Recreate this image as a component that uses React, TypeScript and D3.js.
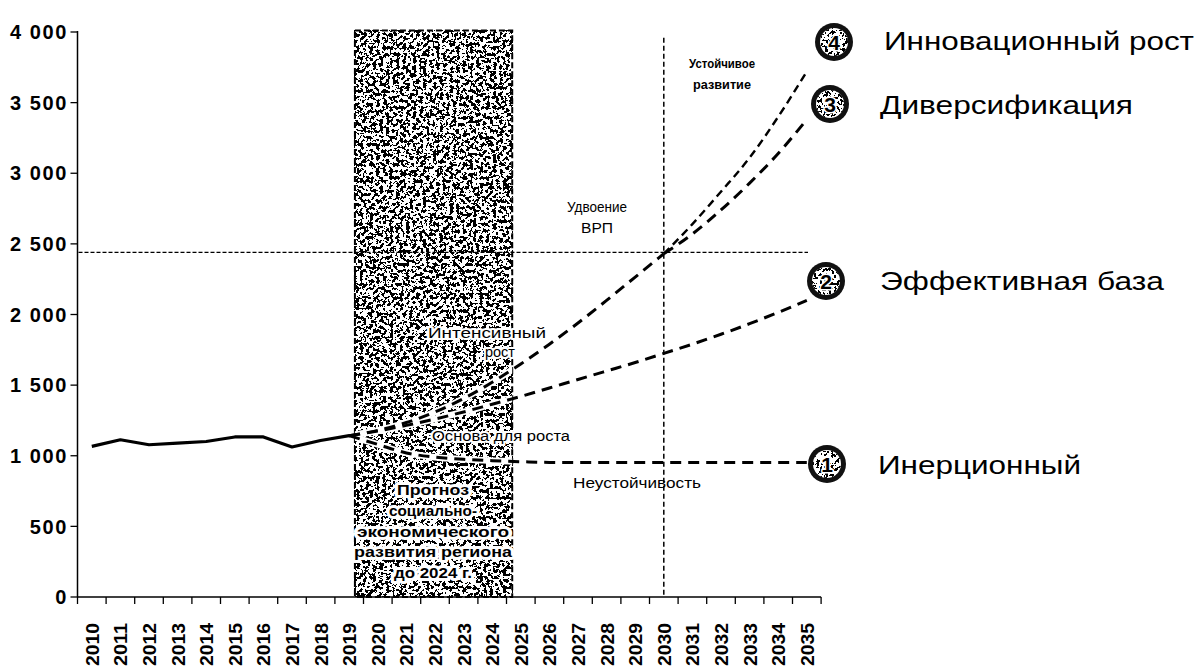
import React from 'react';
import * as d3 from 'd3';

// ---- data ----
const axisYears = d3.range(2010, 2036);
const yTickValues = [0, 500, 1000, 1500, 2000, 2500, 3000, 3500, 4000];

const histYears = [2010, 2011, 2012, 2013, 2014, 2015, 2016, 2017, 2018, 2019];
const histValues = [1066, 1113, 1078, 1090, 1101, 1133, 1133, 1062, 1108, 1142];

const scenarioYears = [2019, 2020, 2021, 2022, 2023, 2024, 2025, 2026, 2027, 2028, 2029, 2030, 2031, 2032, 2033, 2034, 2035];
const inertialValues = [1142, 1080, 1020, 990, 975, 965, 958, 953, 952, 952, 952, 952, 952, 952, 952, 952, 952];
const baseValues = [1142, 1175, 1215, 1260, 1310, 1365, 1420, 1480, 1540, 1600, 1660, 1725, 1790, 1860, 1935, 2015, 2100];

const growthYears = [2019, 2020, 2021, 2022, 2023, 2024, 2025, 2026, 2027, 2028, 2029, 2030];
const growthValues = [1142, 1180, 1235, 1310, 1405, 1520, 1650, 1790, 1940, 2100, 2265, 2430];
const postYears = [2030, 2031, 2032, 2033, 2034, 2035];
const innovationPost = [2430, 2640, 2870, 3110, 3400, 3720];
const diversificationPost = [2430, 2570, 2740, 2930, 3140, 3380];

const doublingLevel = 2440;
const doublingYear = 2030;
const forecastStart = 2019.2;
const forecastEnd = 2024.7;
const forecastTop = 4010;

const scenarioNames = ['Инерционный', 'Эффективная база', 'Диверсификация', 'Инновационный рост'];
const forecastLines = ['Прогноз', 'социально-', 'экономического', 'развития региона', 'до 2024 г.'];

const FONT = '"Liberation Sans", Arial, sans-serif';

const fmt = d3.formatLocale({ decimal: ',', thousands: ' ', grouping: [3], currency: ['', ''] }).format(',');

export default function App() {
  const W = 1201, H = 671;
  const bandW = 28.6;
  const x0 = 77.5;
  const x = d3.scaleLinear().domain([2009.5, 2035.5]).range([x0, x0 + 26 * bandW]);
  const y = d3.scaleLinear().domain([0, 4000]).range([597, 32]);

  const line = d3.line<[number, number]>().x(d => x(d[0])).y(d => y(d[1])).curve(d3.curveMonotoneX);
  const zip = (a: number[], b: number[]) => a.map((v, i) => [v, b[i]] as [number, number]);

  const histPath = d3.line<[number, number]>().x(d => x(d[0])).y(d => y(d[1]))(zip(histYears, histValues)) || '';
  const inertialPath = line(zip(scenarioYears, inertialValues)) || '';
  const basePath = line(zip(scenarioYears, baseValues)) || '';
  const growthPath = line(zip(growthYears, growthValues)) || '';
  const innovPath = line(zip(postYears, innovationPost)) || '';
  const diversPath = line(zip(postYears, diversificationPost)) || '';

  const badges = [
    { n: 4, cx: 834, cy: 42, tx: 884, ty: 50, len: 310, name: scenarioNames[3] },
    { n: 3, cx: 830, cy: 104, tx: 880, ty: 114, len: 253, name: scenarioNames[2] },
    { n: 2, cx: 826, cy: 281, tx: 880, ty: 290, len: 284, name: scenarioNames[1] },
    { n: 1, cx: 827, cy: 464, tx: 878, ty: 474, len: 203, name: scenarioNames[0] },
  ];

  const fx1 = x(forecastStart), fx2 = x(forecastEnd);
  const fyTop = y(forecastTop), fyBot = y(0);
  const xEnd = x0 + 26 * bandW;
  const dash = '11 7';

  return (
    <svg width={W} height={H} style={{ position: 'absolute', left: 0, top: 0, background: '#fff' }} fontFamily={FONT}>
      <defs>
        <filter id="grain" x="0" y="0" width="1" height="1">
          <feTurbulence type="fractalNoise" baseFrequency="0.3" numOctaves={3} seed={11} result="n" />
          <feColorMatrix in="n" type="matrix" values="0 0 0 0 0  0 0 0 0 0  0 0 0 0 0  1 0 0 0 -0.02" result="a" />
          <feComponentTransfer in="a">
            <feFuncA type="discrete" tableValues="0 1" />
          </feComponentTransfer>
        </filter>
        <filter id="grainLight" x="0" y="0" width="1" height="1">
          <feTurbulence type="fractalNoise" baseFrequency="0.35" numOctaves={2} seed={5} result="n" />
          <feColorMatrix in="n" type="matrix" values="0 0 0 0 0  0 0 0 0 0  0 0 0 0 0  1 0 0 0 -0.05" result="a" />
          <feComponentTransfer in="a">
            <feFuncA type="discrete" tableValues="0 1" />
          </feComponentTransfer>
        </filter>
        <clipPath id="boxclip">
          <rect x={fx1} y={fyTop} width={fx2 - fx1} height={fyBot - fyTop} />
        </clipPath>
        {badges.map(b => (
          <clipPath id={`bclip${b.n}`} key={b.n}>
            <circle cx={b.cx} cy={b.cy} r={14} />
          </clipPath>
        ))}
      </defs>

      {/* forecast shaded block */}
      <rect x={fx1} y={fyTop} width={fx2 - fx1} height={fyBot - fyTop} fill="#fff" />
      <rect x={fx1} y={fyTop} width={fx2 - fx1} height={fyBot - fyTop} fill="#000" filter="url(#grain)" />
      <rect x={fx1} y={fyTop} width={fx2 - fx1} height={fyBot - fyTop} fill="none" stroke="#000" strokeWidth={2} strokeDasharray="6 3" />

      {/* reference lines */}
      <line x1={x0 + 1} x2={808} y1={y(doublingLevel)} y2={y(doublingLevel)} stroke="#000" strokeWidth={1.4} strokeDasharray="4 2" />
      <line x1={x(doublingYear)} x2={x(doublingYear)} y1={y(3960)} y2={y(0)} stroke="#000" strokeWidth={1.5} strokeDasharray="5 3" />

      {/* axes */}
      <line x1={x0} x2={x0} y1={y(4000) - 1} y2={y(0)} stroke="#000" strokeWidth={1.5} />
      {yTickValues.map(v => (
        <g key={v}>
          <line x1={x0 - 7} x2={x0} y1={y(v)} y2={y(v)} stroke="#000" strokeWidth={1.3} />
          <text x={68} y={y(v)} dy="0.36em" textAnchor="end" fontSize={20} fontWeight="bold" letterSpacing={1.6}>{fmt(v)}</text>
        </g>
      ))}
      <line x1={x0} x2={xEnd} y1={y(0)} y2={y(0)} stroke="#000" strokeWidth={1.5} />
      {d3.range(0, 27).map(i => (
        <line key={i} x1={x0 + i * bandW} x2={x0 + i * bandW} y1={y(0)} y2={y(0) + 7} stroke="#000" strokeWidth={1.3} />
      ))}
      {axisYears.map(yr => (
        <text key={yr} transform={`translate(${x(yr) + 7},${623}) rotate(-90)`} textAnchor="end" fontSize={19} fontWeight="bold" textLength={43} lengthAdjust="spacingAndGlyphs">{yr}</text>
      ))}

      {/* annotations under the lines */}
      <g fontSize={14} textAnchor="middle" stroke="#fff" strokeWidth={4} paintOrder="stroke" strokeLinejoin="round">
        <text x={487} y={338} textLength={118} lengthAdjust="spacingAndGlyphs">Интенсивный</text>
        <text x={500} y={357} textLength={30} lengthAdjust="spacingAndGlyphs">рост</text>
        <text x={501} y={441} textLength={138} lengthAdjust="spacingAndGlyphs">Основа для роста</text>
      </g>

      {/* white halo under dashed lines inside the forecast block */}
      <g clipPath="url(#boxclip)" fill="none" stroke="#fff" strokeWidth={6.5} strokeLinecap="round">
        <path d={inertialPath} />
        <path d={basePath} />
        <path d={growthPath} />
      </g>

      {/* series */}
      <path d={histPath} fill="none" stroke="#000" strokeWidth={3.2} strokeLinejoin="round" />
      <path d={inertialPath} fill="none" stroke="#000" strokeWidth={3} strokeDasharray={dash} />
      <path d={basePath} fill="none" stroke="#000" strokeWidth={3} strokeDasharray={dash} />
      <path d={growthPath} fill="none" stroke="#000" strokeWidth={3} strokeDasharray={dash} />
      <path d={diversPath} fill="none" stroke="#000" strokeWidth={3} strokeDasharray={dash} />
      <path d={innovPath} fill="none" stroke="#000" strokeWidth={2.4} strokeDasharray="8 5" />

      {/* annotations */}
      <g fontSize={13} fontWeight="bold" textAnchor="middle">
        <text x={722} y={68} textLength={66} lengthAdjust="spacingAndGlyphs">Устойчивое</text>
        <text x={722} y={89} textLength={58} lengthAdjust="spacingAndGlyphs">развитие</text>
      </g>
      <g fontSize={14} textAnchor="middle">
        <text x={597} y={212} textLength={60} lengthAdjust="spacingAndGlyphs">Удвоение</text>
        <text x={597} y={233} textLength={32} lengthAdjust="spacingAndGlyphs">ВРП</text>
        <text x={637} y={488} textLength={128} lengthAdjust="spacingAndGlyphs">Неустойчивость</text>
      </g>
      <g fontSize={15} fontWeight="bold" textAnchor="middle" stroke="#fff" strokeWidth={6} paintOrder="stroke" strokeLinejoin="round">
        {forecastLines.map((t, i) => (
          <text key={t} x={433} y={495 + i * 20.8} textLength={[72, 88, 152, 158, 78][i]} lengthAdjust="spacingAndGlyphs">{t}</text>
        ))}
      </g>

      {/* scenario badges */}
      {badges.map(b => (
        <g key={b.n}>
          <circle cx={b.cx} cy={b.cy} r={19} fill="#111" />
          <circle cx={b.cx} cy={b.cy} r={14} fill="#fff" />
          <rect x={b.cx - 15} y={b.cy - 15} width={30} height={30} fill="#000" filter="url(#grainLight)" clipPath={`url(#bclip${b.n})`} />
          <text x={b.cx} y={b.cy} dy="0.36em" textAnchor="middle" fontSize={21} fontWeight="bold" stroke="#fff" strokeWidth={3} paintOrder="stroke" strokeLinejoin="round">{b.n}</text>
          <text x={b.tx} y={b.ty} fontSize={25} textLength={b.len} lengthAdjust="spacingAndGlyphs">{b.name}</text>
        </g>
      ))}
    </svg>
  );
}
